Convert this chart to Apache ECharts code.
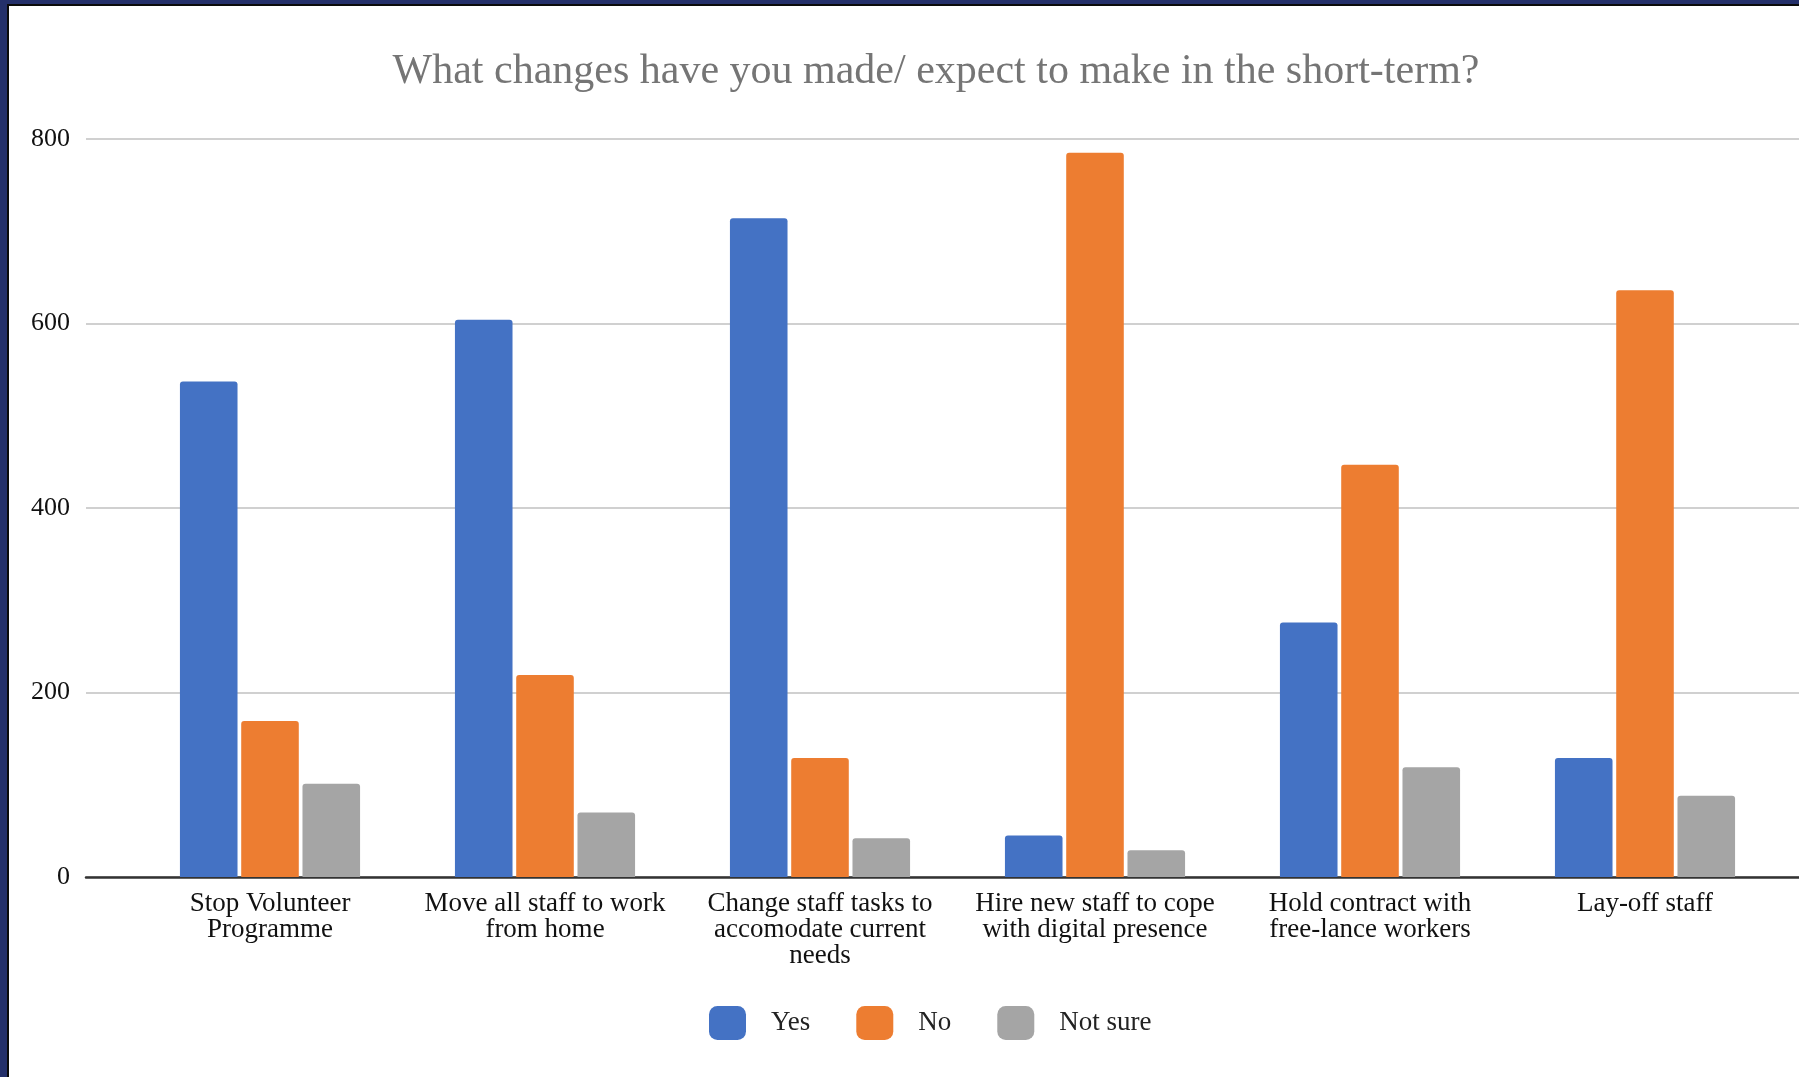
<!DOCTYPE html>
<html>
<head>
<meta charset="utf-8">
<script src="https://cdn.jsdelivr.net/npm/echarts@6/dist/echarts.min.js"></script>
<style>
  html, body { margin: 0; padding: 0; background: #fff; }
  #chart { position: absolute; left: 0; top: 0; width: 1799px; height: 1077px; }
  .b { position: absolute; }
</style>
</head>
<body>
<div id="chart"></div>
<div class="b" style="left:0;top:0;width:7px;height:1077px;background:#24306a;"></div>
<div class="b" style="left:0;top:0;width:1799px;height:4px;background:#24306a;"></div>
<div class="b" style="left:7px;top:4px;width:2px;height:1073px;background:#0b0b0b;"></div>
<div class="b" style="left:7px;top:4px;width:1792px;height:2px;background:#0b0b0b;"></div>
<script>
const titleText = 'What changes have you made/ expect to make in the short-term?';
const categories = [
  'Stop Volunteer\nProgramme',
  'Move all staff to work\nfrom home',
  'Change staff tasks to\naccomodate current\nneeds',
  'Hire new staff to cope\nwith digital presence',
  'Hold contract with\nfree-lance workers',
  'Lay-off staff'
];
const seriesNames = ['Yes', 'No', 'Not sure'];
const yesValues = [537, 604, 714, 45, 276, 129];
const noValues = [169, 219, 129, 785, 447, 636];
const notSureValues = [101, 70, 42, 29, 119, 88];
const yTicks = { min: 0, max: 800, interval: 200 };

const serif = "'Liberation Serif', 'Times New Roman', serif";
const colors = ['#4472c4', '#ed7d31', '#a5a5a5'];

const chart = echarts.init(document.getElementById('chart'), null, { renderer: 'canvas' });

function barSeries(name, data, color) {
  return {
    name: name,
    type: 'bar',
    xAxisIndex: 1,
    yAxisIndex: 1,
    data: data,
    barGap: '6.4%',
    barCategoryGap: '34.5%',
    itemStyle: { color: color, borderRadius: [3, 3, 0, 0] }
  };
}

chart.setOption({
  animation: false,
  color: colors,
  title: {
    text: titleText,
    left: 931,
    top: 46,
    textAlign: 'center',
    textStyle: { fontFamily: serif, fontSize: 42, fontWeight: 'normal', color: '#757575' }
  },
  legend: {
    data: seriesNames,
    left: 704,
    top: 1001,
    itemWidth: 37,
    itemHeight: 34,
    itemGap: 46,
    icon: 'roundRect',
    textStyle: { fontFamily: serif, fontSize: 27, color: '#222', padding: [0, 0, 0, 20] }
  },
  grid: [
    { left: 86, right: 0, top: 139, bottom: 200 },
    { left: 132.5, right: 16.5, top: 139, bottom: 200 }
  ],
  xAxis: [
    {
      type: 'value', gridIndex: 0, min: 0, max: 1,
      axisLine: { show: true, onZero: false, lineStyle: { color: '#333', width: 2.5 } },
      axisTick: { show: false }, axisLabel: { show: false }, splitLine: { show: false }
    },
    {
      type: 'category', gridIndex: 1, data: categories,
      axisLine: { show: false }, axisTick: { show: false },
      axisLabel: { fontFamily: serif, fontSize: 27, color: '#111', lineHeight: 26, margin: 14, interval: 0 }
    }
  ],
  yAxis: [
    {
      type: 'value', gridIndex: 0, min: yTicks.min, max: yTicks.max, interval: yTicks.interval,
      axisLine: { show: false }, axisTick: { show: false },
      axisLabel: { fontFamily: serif, fontSize: 26, color: '#111', margin: 16 },
      splitLine: { lineStyle: { color: '#d0d0d0', width: 2 } }
    },
    {
      type: 'value', gridIndex: 1, min: yTicks.min, max: yTicks.max, interval: yTicks.interval,
      show: false, splitLine: { show: false }
    }
  ],
  series: [
    barSeries(seriesNames[0], yesValues, colors[0]),
    barSeries(seriesNames[1], noValues, colors[1]),
    barSeries(seriesNames[2], notSureValues, colors[2])
  ]
});
</script>
</body>
</html>
